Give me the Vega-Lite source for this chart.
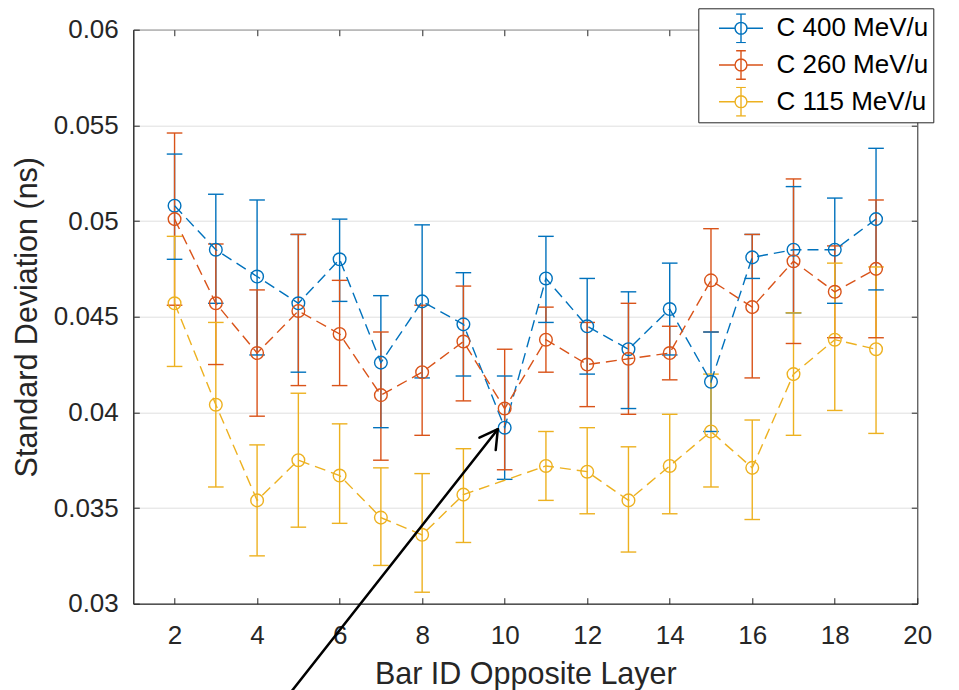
{
  "$schema": "https://vega.github.io/schema/vega-lite/v6.json",
  "width": 784,
  "height": 574,
  "autosize": {"type": "none"},
  "padding": {"left": 133.3, "top": 29.7, "right": 41.7, "bottom": 86.3},
  "background": "white",
  "config": {
    "font": "Liberation Sans",
    "view": {"stroke": "#262626", "strokeWidth": 1},
    "axis": {
      "labelFont": "Liberation Sans",
      "titleFont": "Liberation Sans",
      "labelColor": "#262626",
      "titleColor": "#262626",
      "labelFontSize": 26,
      "titleFontSize": 30.5,
      "titleFontWeight": "normal",
      "domainColor": "#262626",
      "tickColor": "#262626",
      "domainWidth": 1,
      "tickWidth": 1,
      "tickSize": -6,
      "gridColor": "#dfdfdf",
      "gridWidth": 1
    },
    "legend": {
      "labelFont": "Liberation Sans",
      "labelFontSize": 26,
      "labelColor": "#000000"
    }
  },
  "datasets": {
    "sd": [
      {"bar": 2, "beam": "C 400 MeV/u", "sd": 0.0508, "lo": 0.0480, "hi": 0.0535},
      {"bar": 3, "beam": "C 400 MeV/u", "sd": 0.0485, "lo": 0.0457, "hi": 0.0514},
      {"bar": 4, "beam": "C 400 MeV/u", "sd": 0.0471, "lo": 0.0430, "hi": 0.0511},
      {"bar": 5, "beam": "C 400 MeV/u", "sd": 0.0457, "lo": 0.0421, "hi": 0.0493},
      {"bar": 6, "beam": "C 400 MeV/u", "sd": 0.0480, "lo": 0.0458, "hi": 0.0501},
      {"bar": 7, "beam": "C 400 MeV/u", "sd": 0.0426, "lo": 0.0392, "hi": 0.0461},
      {"bar": 8, "beam": "C 400 MeV/u", "sd": 0.0458, "lo": 0.0418, "hi": 0.0498},
      {"bar": 9, "beam": "C 400 MeV/u", "sd": 0.0446, "lo": 0.0419, "hi": 0.0473},
      {"bar": 10, "beam": "C 400 MeV/u", "sd": 0.0392, "lo": 0.0365, "hi": 0.0419},
      {"bar": 11, "beam": "C 400 MeV/u", "sd": 0.0470, "lo": 0.0447, "hi": 0.0492},
      {"bar": 12, "beam": "C 400 MeV/u", "sd": 0.0445, "lo": 0.0420, "hi": 0.0470},
      {"bar": 13, "beam": "C 400 MeV/u", "sd": 0.0433, "lo": 0.0402, "hi": 0.0463},
      {"bar": 14, "beam": "C 400 MeV/u", "sd": 0.0454, "lo": 0.0430, "hi": 0.0478},
      {"bar": 15, "beam": "C 400 MeV/u", "sd": 0.0416, "lo": 0.0390, "hi": 0.0442},
      {"bar": 16, "beam": "C 400 MeV/u", "sd": 0.0481, "lo": 0.0470, "hi": 0.0493},
      {"bar": 17, "beam": "C 400 MeV/u", "sd": 0.0485, "lo": 0.0452, "hi": 0.0518},
      {"bar": 18, "beam": "C 400 MeV/u", "sd": 0.0485, "lo": 0.0457, "hi": 0.0512},
      {"bar": 19, "beam": "C 400 MeV/u", "sd": 0.0501, "lo": 0.0464, "hi": 0.0538},
      {"bar": 2, "beam": "C 260 MeV/u", "sd": 0.0501, "lo": 0.0456, "hi": 0.0546},
      {"bar": 3, "beam": "C 260 MeV/u", "sd": 0.0457, "lo": 0.0425, "hi": 0.0488},
      {"bar": 4, "beam": "C 260 MeV/u", "sd": 0.0431, "lo": 0.0398, "hi": 0.0464},
      {"bar": 5, "beam": "C 260 MeV/u", "sd": 0.0453, "lo": 0.0414, "hi": 0.0493},
      {"bar": 6, "beam": "C 260 MeV/u", "sd": 0.0441, "lo": 0.0414, "hi": 0.0469},
      {"bar": 7, "beam": "C 260 MeV/u", "sd": 0.0409, "lo": 0.0375, "hi": 0.0442},
      {"bar": 8, "beam": "C 260 MeV/u", "sd": 0.0421, "lo": 0.0388, "hi": 0.0456},
      {"bar": 9, "beam": "C 260 MeV/u", "sd": 0.0437, "lo": 0.0406, "hi": 0.0466},
      {"bar": 10, "beam": "C 260 MeV/u", "sd": 0.0402, "lo": 0.0370, "hi": 0.0433},
      {"bar": 11, "beam": "C 260 MeV/u", "sd": 0.0438, "lo": 0.0421, "hi": 0.0455},
      {"bar": 12, "beam": "C 260 MeV/u", "sd": 0.0425, "lo": 0.0403, "hi": 0.0447},
      {"bar": 13, "beam": "C 260 MeV/u", "sd": 0.0428, "lo": 0.0399, "hi": 0.0457},
      {"bar": 14, "beam": "C 260 MeV/u", "sd": 0.0431, "lo": 0.0417, "hi": 0.0445},
      {"bar": 15, "beam": "C 260 MeV/u", "sd": 0.0469, "lo": 0.0442, "hi": 0.0496},
      {"bar": 16, "beam": "C 260 MeV/u", "sd": 0.0455, "lo": 0.0418, "hi": 0.0493},
      {"bar": 17, "beam": "C 260 MeV/u", "sd": 0.0479, "lo": 0.0436, "hi": 0.0522},
      {"bar": 18, "beam": "C 260 MeV/u", "sd": 0.0463, "lo": 0.0439, "hi": 0.0487},
      {"bar": 19, "beam": "C 260 MeV/u", "sd": 0.0475, "lo": 0.0439, "hi": 0.0511},
      {"bar": 2, "beam": "C 115 MeV/u", "sd": 0.0457, "lo": 0.0424, "hi": 0.0492},
      {"bar": 3, "beam": "C 115 MeV/u", "sd": 0.0404, "lo": 0.0361, "hi": 0.0447},
      {"bar": 4, "beam": "C 115 MeV/u", "sd": 0.0354, "lo": 0.0325, "hi": 0.0383},
      {"bar": 5, "beam": "C 115 MeV/u", "sd": 0.0375, "lo": 0.0340, "hi": 0.0410},
      {"bar": 6, "beam": "C 115 MeV/u", "sd": 0.0367, "lo": 0.0342, "hi": 0.0394},
      {"bar": 7, "beam": "C 115 MeV/u", "sd": 0.0345, "lo": 0.0320, "hi": 0.0371},
      {"bar": 8, "beam": "C 115 MeV/u", "sd": 0.0336, "lo": 0.0306, "hi": 0.0368},
      {"bar": 9, "beam": "C 115 MeV/u", "sd": 0.0357, "lo": 0.0332, "hi": 0.0381},
      {"bar": 11, "beam": "C 115 MeV/u", "sd": 0.0372, "lo": 0.0354, "hi": 0.0390},
      {"bar": 12, "beam": "C 115 MeV/u", "sd": 0.0369, "lo": 0.0347, "hi": 0.0392},
      {"bar": 13, "beam": "C 115 MeV/u", "sd": 0.0354, "lo": 0.0327, "hi": 0.0382},
      {"bar": 14, "beam": "C 115 MeV/u", "sd": 0.0372, "lo": 0.0347, "hi": 0.0399},
      {"bar": 15, "beam": "C 115 MeV/u", "sd": 0.0390, "lo": 0.0361, "hi": 0.0420},
      {"bar": 16, "beam": "C 115 MeV/u", "sd": 0.0371, "lo": 0.0344, "hi": 0.0396},
      {"bar": 17, "beam": "C 115 MeV/u", "sd": 0.0420, "lo": 0.0388, "hi": 0.0452},
      {"bar": 18, "beam": "C 115 MeV/u", "sd": 0.0438, "lo": 0.0401, "hi": 0.0478},
      {"bar": 19, "beam": "C 115 MeV/u", "sd": 0.0433, "lo": 0.0389, "hi": 0.0476}
    ],
    "arrow": [
      {"xa": 4.82, "ya": 0.02538, "xb": 9.834, "yb": 0.039119},
      {"xa": 9.388, "ya": 0.038675, "xb": 9.834, "yb": 0.039119},
      {"xa": 9.783, "ya": 0.038032, "xb": 9.834, "yb": 0.039119}
    ]
  },
  "resolve": {"axis": {"x": "independent", "y": "independent"}},
  "layer": [
    {
      "data": {"name": "sd"},
      "mark": {"type": "rule", "strokeWidth": 1.4},
      "encoding": {
        "x": {"field": "bar", "type": "quantitative", "scale": {"domain": [1, 20], "nice": false, "zero": false},
          "axis": {"title": "Bar ID Opposite Layer", "values": [2, 4, 6, 8, 10, 12, 14, 16, 18, 20], "grid": false, "labelPadding": 25, "titlePadding": 11, "labelFlush": false}},
        "y": {"field": "lo", "type": "quantitative", "scale": {"domain": [0.03, 0.06], "nice": false, "zero": false},
          "axis": {"title": "Standard Deviation (ns)", "values": [0.03, 0.035, 0.04, 0.045, 0.05, 0.055, 0.06], "format": ".3~f", "grid": true, "labelPadding": 21, "titlePadding": 11}},
        "y2": {"field": "hi"},
        "color": {"field": "beam", "type": "nominal",
          "scale": {"domain": ["C 400 MeV/u", "C 260 MeV/u", "C 115 MeV/u"], "range": ["#0072BD", "#D95319", "#EDB120"]},
          "legend": {
            "title": null,
            "orient": "none",
            "legendX": 565,
            "legendY": -21.4,
            "direction": "vertical",
            "symbolType": "M-1,0L-0.27,0M0.27,0L1,0M0,-0.65L0,0.65M-0.22,-0.65L0.22,-0.65M-0.22,0.65L0.22,0.65M0.27,0A0.27,0.27,0,1,1,-0.27,0A0.27,0.27,0,1,1,0.27,0Z",
            "symbolSize": 1936,
            "symbolStrokeWidth": 1.4,
            "symbolFillColor": "transparent",
            "symbolOpacity": 1,
            "symbolOffset": 14.7,
            "labelOffset": 12.5,
            "clipHeight": 30,
            "padding": 5,
            "rowPadding": 6.7,
            "strokeColor": "#262626",
            "fillColor": "white"
          }}
      }
    },
    {
      "data": {"name": "sd"},
      "mark": {"type": "rule", "strokeWidth": 1.4, "xOffset": -7.8, "x2Offset": 7.8},
      "encoding": {
        "x": {"field": "bar", "type": "quantitative", "axis": null},
        "x2": {"field": "bar"},
        "y": {"field": "lo", "type": "quantitative", "axis": null},
        "color": {"field": "beam", "type": "nominal"}
      }
    },
    {
      "data": {"name": "sd"},
      "mark": {"type": "rule", "strokeWidth": 1.4, "xOffset": -7.8, "x2Offset": 7.8},
      "encoding": {
        "x": {"field": "bar", "type": "quantitative", "axis": null},
        "x2": {"field": "bar"},
        "y": {"field": "hi", "type": "quantitative", "axis": null},
        "color": {"field": "beam", "type": "nominal"}
      }
    },
    {
      "data": {"name": "sd"},
      "mark": {"type": "line", "strokeWidth": 1.4, "strokeDash": [11, 6]},
      "encoding": {
        "x": {"field": "bar", "type": "quantitative", "axis": null},
        "y": {"field": "sd", "type": "quantitative", "axis": null},
        "color": {"field": "beam", "type": "nominal"}
      }
    },
    {
      "data": {"name": "sd"},
      "mark": {"type": "point", "shape": "circle", "filled": false, "size": 160, "strokeWidth": 1.4, "opacity": 1},
      "encoding": {
        "x": {"field": "bar", "type": "quantitative",
          "axis": {"orient": "top", "title": null, "labels": false, "domain": false, "grid": false, "values": [2, 4, 6, 8, 10, 12, 14, 16, 18, 20]}},
        "y": {"field": "sd", "type": "quantitative",
          "axis": {"orient": "right", "title": null, "labels": false, "domain": false, "grid": false, "values": [0.03, 0.035, 0.04, 0.045, 0.05, 0.055, 0.06]}},
        "color": {"field": "beam", "type": "nominal"}
      }
    },
    {
      "data": {"name": "arrow"},
      "mark": {"type": "rule", "color": "black", "strokeWidth": 2.5, "clip": false, "strokeCap": "round"},
      "encoding": {
        "x": {"field": "xa", "type": "quantitative", "axis": null},
        "y": {"field": "ya", "type": "quantitative", "axis": null},
        "x2": {"field": "xb"},
        "y2": {"field": "yb"}
      }
    }
  ]
}
